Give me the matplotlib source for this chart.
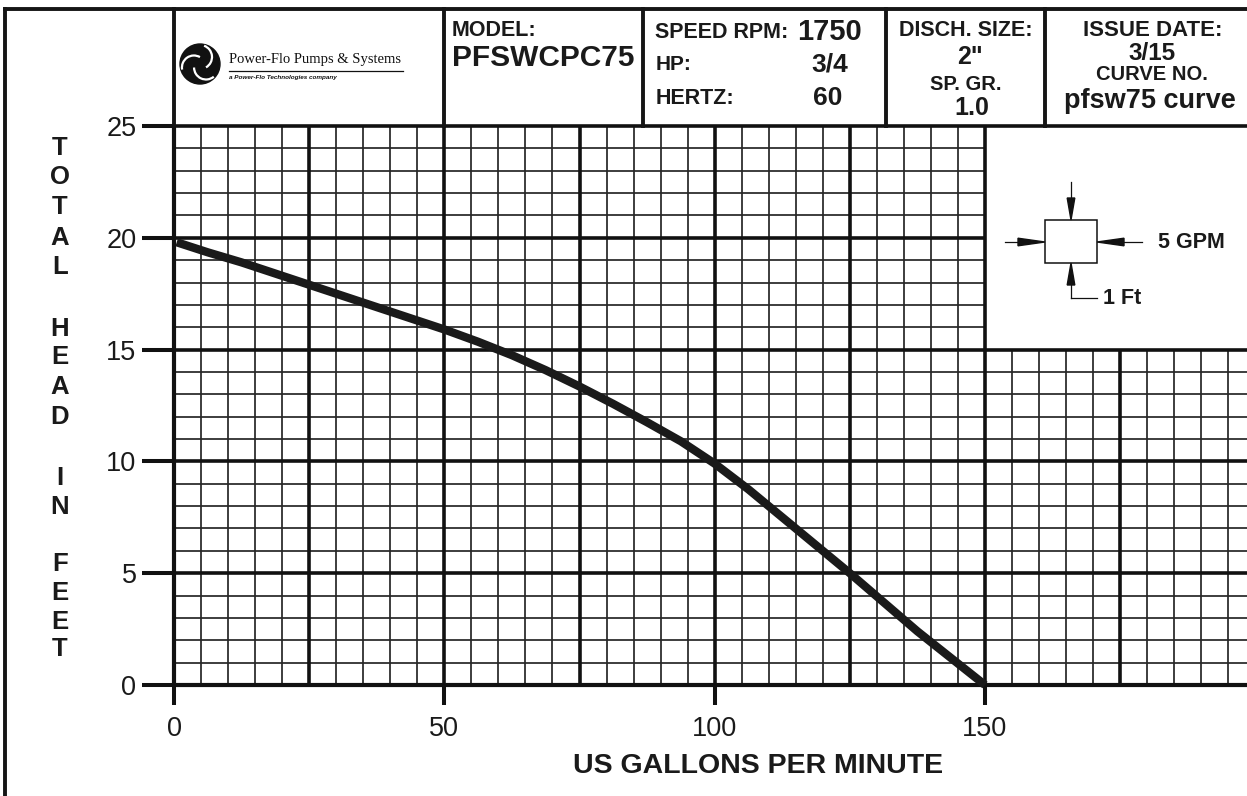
import matplotlib
matplotlib.use("Agg")
import matplotlib.pyplot as plt
import numpy as np
from matplotlib.patches import Circle, Rectangle, Polygon, Arc

# ---------------- data ----------------
gpm = [0.5, 6.25, 12.5, 18.75, 25, 31.25, 37.5, 43.75, 50, 56.25, 62.5, 68.75, 75,
       81.25, 87.5, 93.75, 100, 106.25, 112.5, 118.75, 125, 131.25, 137.5, 143.75, 150]
head = [19.8, 19.35, 18.9, 18.4, 17.9, 17.4, 16.9, 16.4, 15.9, 15.35, 14.75, 14.08, 13.35,
        12.57, 11.75, 10.9, 9.9, 8.75, 7.5, 6.25, 5.0, 3.7, 2.4, 1.2, 0.0]
x_ticks = [0, 50, 100, 150]
y_ticks = [0, 5, 10, 15, 20, 25]
x_label = "US GALLONS PER MINUTE"
y_label = "TOTAL HEAD IN FEET"

W, H = 1247, 796
fig = plt.figure(figsize=(W / 100, H / 100), dpi=100)
fig.patch.set_facecolor("white")

SANS = ["Liberation Sans", "DejaVu Sans"]

# axes geometry (pixels)
X0, X150 = 174, 985
Y0, Y25 = 685, 126
ppu = (X150 - X0) / 150.0
xmax = (W - X0) / ppu

ax = fig.add_axes([X0 / W, 1 - Y0 / H, (W - X0) / W, (Y0 - Y25) / H])
ax.set_xlim(0, xmax)
ax.set_ylim(0, 25)
for s in ax.spines.values():
    s.set_visible(False)
ax.set_facecolor("none")

MINOR_C = "#262626"
MINOR_LW = 1.25
MAJOR_LW = 2.6

# vertical grid lines
for v in np.arange(0, xmax, 5):
    top = 25 if v <= 150 else 15
    if v == 0:
        continue
    if v % 25 == 0:
        ax.vlines(v, 0, top, color="#111111", lw=MAJOR_LW, zorder=2, clip_on=False)
    else:
        ax.vlines(v, 0, top, color=MINOR_C, lw=MINOR_LW, zorder=1, clip_on=False)
# horizontal grid lines
for h in range(1, 26):
    right = xmax if (h <= 15 or h == 25) else 150
    if h % 5 == 0:
        ax.hlines(h, 0, right, color="#111111", lw=MAJOR_LW, zorder=2, clip_on=False)
    else:
        ax.hlines(h, 0, right, color=MINOR_C, lw=MINOR_LW, zorder=1, clip_on=False)
# axis lines
ax.hlines(0, 0, xmax, color="#111111", lw=3.0, zorder=3, clip_on=False)
ax.vlines(0, 0, 25, color="#111111", lw=3.0, zorder=3, clip_on=False)

# pump curve
ax.plot(gpm, head, color="#1a1a1a", lw=6.0, solid_capstyle="butt",
        solid_joinstyle="round", zorder=5, clip_on=False)

# ticks
ax.set_xticks(x_ticks)
ax.set_yticks(y_ticks)
ax.tick_params(axis="y", direction="out", length=23, width=2.9, color="#111111", pad=4,
               labelsize=19.5)
ax.tick_params(axis="x", direction="out", length=14.5, width=2.9, color="#111111", pad=8,
               labelsize=19.5)
for lab in ax.get_xticklabels() + ax.get_yticklabels():
    lab.set_family(SANS)
    lab.set_color("#1a1a1a")

# ---------------- overlay (pixel coordinates) ----------------
ov = fig.add_axes([0, 0, 1, 1], zorder=10)
ov.set_xlim(0, W)
ov.set_ylim(H, 0)
ov.axis("off")
ov.patch.set_alpha(0)

LC = "#151515"
BLW = 2.8
ov.plot([5, W], [9, 9], color=LC, lw=BLW, solid_capstyle="projecting")
ov.plot([5, 5], [9, H], color=LC, lw=BLW, solid_capstyle="projecting")
for xd in [174, 444, 643, 886, 1045]:
    ov.plot([xd, xd], [9, 126], color=LC, lw=BLW)

def t(x, y, s, size, ha="left", weight="bold", **kw):
    ov.text(x, y, s, fontsize=size, ha=ha, va="center", fontweight=weight,
            family=SANS, color="#1a1a1a", **kw)

t(452, 30, "MODEL:", 15.5)
t(452, 58, "PFSWCPC75", 21.5)
t(655, 32, "SPEED RPM:", 15.5)
t(797, 32, "1750", 21)
t(656, 65, "HP:", 15)
t(830, 65, "3/4", 19, ha="center")
t(656, 98, "HERTZ:", 15.5)
t(828, 98, "60", 19, ha="center")
t(966, 31, "DISCH. SIZE:", 15.5, ha="center")
t(970, 57, "2\"", 18, ha="center")
t(966, 85, "SP. GR.", 14.5, ha="center")
t(972, 108, "1.0", 18, ha="center")
t(1153, 31, "ISSUE DATE:", 16, ha="center")
t(1152, 53, "3/15", 17.5, ha="center")
t(1152, 75, "CURVE NO.", 14.5, ha="center")
t(1150, 101, "pfsw75 curve", 19.5, ha="center")

# logo
LX, LY, LR = 200, 64, 20
ov.add_patch(Circle((LX, LY), LR, color="#111111", zorder=3))
for k in range(3):
    a = np.deg2rad(90 + 120 * k)
    cx, cy = LX + 7 * np.cos(a), LY - 7 * np.sin(a)
    ov.add_patch(Arc((cx, cy), 24, 24, angle=0,
                     theta1=-np.rad2deg(a) + 20, theta2=-np.rad2deg(a) + 150,
                     color="white", lw=1.6, zorder=4))
ov.text(229, 60, "Power-Flo Pumps & Systems", fontsize=10.5,
        family=["Liberation Serif", "DejaVu Serif"], ha="left", va="center", color="#111111")
ov.plot([229, 403], [70.5, 70.5], color="#111111", lw=0.9)
ov.text(229, 78, "a Power-Flo Technologies company", fontsize=4.6, style="italic",
        fontweight="bold", family=SANS, ha="left", va="center", color="#111111")

# y label stacked letters
ys = [148, 177, 207, 238, 267, 329, 357, 387, 417, 478, 507, 564, 593, 622, 649]
letters = [c for c in y_label if c != " "]
for c, yy in zip(letters, ys):
    t(60, yy, c, 18.5, ha="center")

# x label
t(758, 766, x_label, 20.5, ha="center")

# inset diagram
ov.add_patch(Rectangle((1045, 220), 52, 43, facecolor="white", edgecolor="#111111",
                       lw=1.1, zorder=3))
def arrow(x1, y1, x2, y2, hl=24, hw=3.8):
    d = np.array([x2 - x1, y2 - y1], float)
    L = np.hypot(*d)
    u = d / L
    n = np.array([-u[1], u[0]])
    base = np.array([x2, y2]) - u * hl
    ov.plot([x1, base[0]], [y1, base[1]], color="#111111", lw=0.9)
    ov.add_patch(Polygon([(x2, y2), tuple(base + n * hw), tuple(base - n * hw)],
                         closed=True, color="#111111", zorder=4))
arrow(1071, 182, 1071, 220, hl=22)
arrow(1005, 242, 1045, 242, hl=27)
arrow(1142, 242, 1097, 242, hl=27)
arrow(1071, 298, 1071, 263, hl=22)
ov.plot([1071, 1097], [298, 298], color="#111111", lw=0.9)
t(1158, 242, "5 GPM", 15.5)
t(1103, 298, "1 Ft", 15.5)

fig.savefig("out.png", dpi=100, facecolor="white")
